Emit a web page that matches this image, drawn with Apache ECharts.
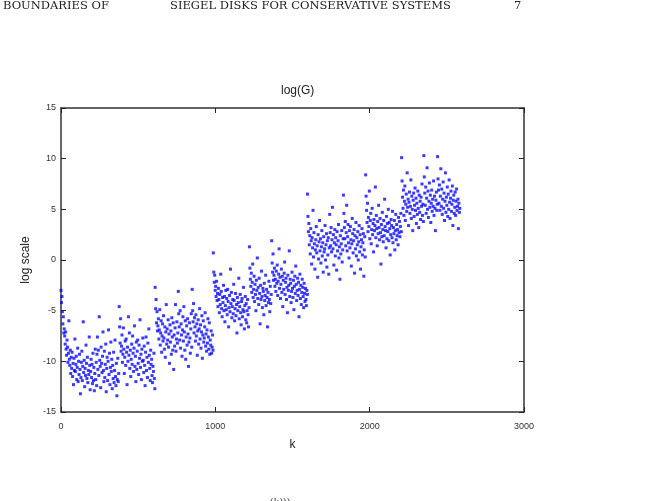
<!DOCTYPE html>
<html>
<head>
<meta charset="utf-8">
<script src="https://cdn.jsdelivr.net/npm/echarts@6.0.0/dist/echarts.min.js"></script>
<style>
  html, body { margin: 0; padding: 0; background: #fff; }
  #logChart { width: 658px; height: 501px; }
</style>
</head>
<body>
<div id="logChart"></div>
<script>
// x ticks / y ticks
var xTicks = [0, 1000, 2000, 3000];
var yTicks = [-15, -10, -5, 0, 5, 10, 15];

// one value every kStep iterations, each block starts at blockStart[i]
var kStep = 3;
var blockStart = [0, 233, 377, 610, 760, 850, 987, 1221, 1365, 1597, 1741, 1830, 1974, 2207, 2351, 2440];

var b0 = [-3.0, -4.2, -3.6, -5.1, -6.3, -5.6, -7.2, -6.8, -7.5, -8.3, -7.1, -8.8, -9.4, -7.9, -8.6, -10.1, -9.2, -6.0, -9.8, -10.4,
  -8.9, -11.2, -9.6, -10.7, -9.1, -11.5, -10.2, -12.3, -9.7, -10.9, -7.8, -11.0, -10.3, -9.5, -11.8, -10.6, -8.7, -12.0, -10.0, -11.3,
  -9.3, -10.8, -13.2, -11.6, -10.1, -9.0, -11.9, -10.5, -6.1, -11.1, -9.9, -12.5, -10.7, -11.4, -8.4, -10.2, -11.7, -9.6, -12.1, -10.9,
  -11.3, -7.6, -10.4, -12.8, -11.0, -9.8, -11.6, -10.3, -12.2, -9.2, -11.9, -10.6, -12.9, -11.2, -8.8, -11.8, -10.1, -12.4];
var b1 = [-9.3, -7.6, -10.8, -8.9, -11.4, -5.6, -9.9, -10.5, -12.6, -8.6, -10.2, -11.1, -9.5, -7.1, -10.9, -12.0, -9.0, -11.6, -10.3, -8.3,
  -13.0, -10.7, -9.6, -11.9, -10.0, -6.9, -11.3, -9.2, -12.3, -10.6, -8.1, -11.0, -9.8, -12.7, -10.4, -11.7, -9.1, -12.1, -10.9, -7.9,
  -11.5, -12.4, -10.2, -13.4, -11.8, -9.7, -12.0, -11.2];
var b2 = [-4.6, -6.6, -8.2, -5.8, -9.0, -8.5, -7.4, -10.1, -9.3, -6.7, -8.8, -11.2, -9.6, -8.0, -10.4, -7.8, -9.1, -12.3, -8.6, -10.0,
  -5.6, -9.4, -7.2, -10.7, -8.9, -11.5, -9.8, -8.3, -10.3, -7.5, -9.2, -11.0, -8.7, -6.5, -10.5, -9.5, -12.0, -8.1, -10.8, -9.0,
  -7.9, -10.2, -11.3, -8.4, -9.7, -5.9, -10.6, -9.3, -11.8, -8.8, -10.0, -7.7, -9.9, -11.1, -8.5, -10.4, -12.4, -9.1, -7.6, -10.9,
  -9.6, -11.6, -8.2, -10.1, -6.8, -9.4, -10.7, -11.9, -8.9, -10.3, -9.8, -11.4, -12.1, -10.5, -11.0, -9.2, -11.7, -12.7];
var b3 = [-2.7, -4.8, -3.9, -6.2, -5.1, -7.0, -6.5, -5.8, -7.8, -6.9, -4.9, -8.4, -7.2, -6.0, -9.1, -7.5, -6.3, -8.0, -5.5, -7.7,
  -8.8, -6.6, -9.6, -7.1, -4.4, -8.3, -6.8, -7.9, -5.9, -8.6, -7.3, -10.2, -6.4, -8.1, -7.0, -9.3, -5.7, -7.6, -8.9, -6.2,
  -10.8, -7.4, -8.5, -6.7, -4.4, -9.0, -7.8, -6.1, -8.2, -7.2];
var b4 = [-3.1, -5.3, -6.6, -7.9, -5.0, -8.7, -6.3, -7.4, -9.5, -6.9, -5.6, -8.0, -4.6, -7.1, -8.9, -6.0, -9.8, -7.6, -6.5, -8.4,
  -5.8, -7.3, -10.5, -8.1, -6.2, -7.7, -9.2, -6.8, -5.3, -8.6];
var b5 = [-2.9, -5.0, -6.1, -4.3, -7.2, -5.7, -6.6, -8.0, -5.4, -7.5, -6.3, -9.4, -7.0, -5.9, -8.3, -6.8, -4.8, -7.8, -6.4, -8.7,
  -7.1, -5.5, -9.7, -7.4, -6.0, -8.1, -7.7, -6.6, -5.2, -8.5, -7.3, -9.0, -6.9, -8.2, -5.8, -7.6, -8.8, -6.2, -9.3, -7.9,
  -8.4, -7.0, -9.2, -8.6, -7.4, -8.9];
var b6 = [0.7, -1.2, -2.2, -1.5, -3.0, -2.6, -3.6, -2.1, -4.0, -3.3, -4.6, -2.8, -3.9, -5.2, -3.4, -4.4, -1.4, -3.1, -4.8, -5.6,
  -3.7, -4.2, -2.5, -5.0, -3.6, -6.1, -4.5, -3.0, -4.9, -3.8, -5.4, -2.9, -4.1, -6.6, -4.7, -3.5, -5.1, -0.9, -4.3, -3.2,
  -5.7, -4.6, -3.9, -5.3, -2.4, -4.0, -6.0, -4.8, -3.3, -5.5, -4.4, -7.2, -3.7, -5.0, -4.2, -1.8, -5.8, -4.6, -3.4, -5.2,
  -6.4, -4.1, -3.8, -5.6, -4.9, -2.7, -5.1, -6.8, -4.5, -3.6, -5.9, -4.3, -6.2, -5.0, -3.9, -5.4, -6.6, -4.7];
var b7 = [1.3, -0.8, -1.9, -2.6, -1.3, -3.2, -2.2, -0.4, -3.7, -2.9, -1.6, -4.1, -2.4, -3.4, -5.0, -2.0, -3.0, 0.2, -3.8, -2.7,
  -4.4, -1.8, -3.3, -6.3, -2.5, -3.9, -1.1, -3.6, -4.7, -2.8, -3.1, -5.4, -2.3, -4.0, -3.5, -1.5, -4.5, -2.9, -3.7, -6.6,
  -3.2, -4.2, -2.1, -3.9, -5.1, -2.6, -4.3, -3.4];
var b8 = [1.9, -0.3, -1.2, 0.6, -2.0, -1.5, -0.8, -2.6, -1.9, -3.1, -1.1, -2.3, -0.5, -3.5, -2.1, -1.4, 1.1, -2.8, -1.7, -3.8,
  -2.4, -0.9, -3.2, -1.6, -4.6, -2.0, -2.9, -1.3, -0.2, -3.4, -2.2, -1.8, -3.9, -2.7, -5.2, -1.5, -3.0, -2.5, 0.9, -3.6,
  -1.9, -2.3, -4.2, -3.1, -1.2, -2.8, -3.7, -2.0, -4.9, -2.6, -1.6, -3.3, -0.6, -2.4, -4.0, -3.0, -1.8, -3.5, -2.2, -5.6,
  -2.9, -1.4, -3.8, -2.5, -4.4, -3.2, -1.9, -2.7, -3.6, -4.7, -2.3, -3.3, -4.1, -2.8, -3.9, -4.5, -3.0, -3.4];
var b9 = [6.5, 4.3, 2.8, 3.6, 1.5, 2.4, 0.6, 3.1, 1.9, -0.4, 2.2, 1.2, 4.9, 0.3, 2.7, 1.6, -0.9, 1.0, 2.0, 3.3,
  0.7, 1.4, -1.7, 2.5, 0.1, 1.8, 3.9, 0.9, 2.1, -0.3, 1.3, 2.9, 0.4, 1.7, -1.2, 2.3, 0.8, 1.1, 3.4, 0.0,
  1.5, 2.6, -0.7, 1.9, 0.5, 2.2, -1.4, 1.2];
var b10 = [4.5, 2.7, 1.4, 3.2, 0.8, 2.0, 5.2, 1.1, 2.5, -0.5, 1.7, 3.0, 0.4, 2.2, 1.5, -1.0, 2.8, 0.9, 1.9, 3.5,
  0.2, 1.3, -1.9, 2.4, 0.6, 1.6, 2.9, -0.2, 1.0, 2.1];
var b11 = [6.4, 4.6, 3.2, 2.1, 3.8, 1.4, 2.7, 5.4, 0.9, 2.3, 3.5, 1.7, 0.2, 2.9, 1.2, 3.3, 2.0, -0.6, 1.6, 4.1,
  2.6, 0.7, 1.9, 3.0, -1.3, 2.4, 1.1, 3.7, 0.4, 2.2, 1.5, 2.8, 0.0, 1.8, 3.4, 0.8, 2.5, -0.9, 1.3, 2.0,
  3.1, 0.5, 1.7, 2.6, -1.6, 1.0, 2.3, 0.3];
var b12 = [8.4, 6.3, 4.9, 3.7, 5.6, 2.8, 4.2, 3.3, 6.8, 2.1, 3.9, 4.6, 1.6, 3.0, 5.1, 2.5, 3.6, 0.8, 4.0, 2.9,
  3.4, 7.2, 2.2, 4.4, 3.1, 1.4, 3.8, 2.6, 5.4, 3.2, 2.0, 4.1, 2.7, -0.4, 3.5, 2.3, 4.7, 3.0, 1.8, 3.9,
  2.4, 6.0, 3.3, 2.9, 1.2, 4.3, 2.1, 3.6, 2.8, 5.0, 1.9, 3.7, 3.1, 0.5, 2.5, 4.0, 3.4, 2.2, 4.8, 1.7,
  3.2, 2.6, 3.9, 1.0, 2.9, 4.5, 2.0, 3.5, 2.4, 3.0, 1.5, 4.2, 2.7, 3.8, 2.3, 3.3, 4.6, 2.8];
var b13 = [10.1, 7.8, 6.2, 5.1, 6.9, 4.4, 5.8, 7.3, 3.9, 5.5, 6.5, 4.8, 8.6, 5.2, 6.0, 3.4, 5.7, 6.7, 4.6, 5.3,
  7.9, 4.1, 6.3, 5.0, 2.9, 5.9, 6.6, 4.3, 5.4, 7.1, 4.9, 6.1, 3.6, 5.6, 4.5, 6.8, 5.1, 3.2, 6.4, 4.7,
  5.8, 4.0, 6.2, 5.3, 7.5, 4.4, 5.5, 3.8];
var b14 = [10.3, 8.2, 6.6, 5.4, 7.2, 4.6, 6.1, 9.1, 5.0, 6.8, 4.2, 5.8, 7.6, 5.2, 6.4, 3.7, 5.6, 6.9, 4.8, 6.0,
  5.3, 7.8, 4.4, 6.3, 5.1, 2.9, 5.9, 6.7, 4.9, 5.5];
var b15 = [10.2, 8.0, 6.9, 5.6, 7.4, 4.9, 6.3, 9.0, 5.3, 7.0, 4.5, 6.0, 7.7, 5.1, 6.6, 3.9, 5.8, 8.6, 4.7, 6.2,
  5.4, 7.2, 4.3, 6.5, 5.0, 7.9, 5.7, 4.1, 6.1, 6.8, 4.8, 5.5, 7.3, 3.4, 5.9, 6.4, 4.6, 5.2, 6.7, 4.4,
  5.8, 7.0, 4.9, 5.3, 6.0, 3.1, 5.6, 4.7, 5.1];

var blockY = [b0, b1, b2, b3, b4, b5, b6, b7, b8, b9, b10, b11, b12, b13, b14, b15];

var points = [];
blockY.forEach(function (ys, i) {
  ys.forEach(function (y, j) {
    points.push([blockStart[i] + j * kStep, y]);
  });
});

var frame = { show: true, onZero: false, lineStyle: { color: '#333', width: 1.5 } };
var tickIn = { show: true, inside: true, length: 5, lineStyle: { color: '#222', width: 1 } };
var labelStyle = { color: '#333', fontSize: 9, fontFamily: 'Liberation Sans, Arial, sans-serif',
  formatter: function (v) { return String(v); } };
var headFont = '11.5px "DejaVu Serif", serif';

var option = {
  animation: false,
  backgroundColor: '#fff',
  title: {
    text: 'log(G)',
    left: 276,
    top: 80,
    textStyle: { fontSize: 12, fontWeight: 'normal', color: '#222', fontFamily: 'Liberation Sans, Arial, sans-serif' }
  },
  graphic: [
    { type: 'text', left: 3, top: 0, style: { text: 'BOUNDARIES OF', font: headFont, fill: '#222' } },
    { type: 'text', left: 170, top: 0, style: { text: 'SIEGEL DISKS FOR CONSERVATIVE SYSTEMS', font: headFont, fill: '#222' } },
    { type: 'text', left: 514, top: 0, style: { text: '7', font: headFont, fill: '#222' } },
    { type: 'text', left: 270, top: 497, style: { text: '(k)))', font: '11px "Liberation Serif", serif', fill: '#444' } }
  ],
  grid: { left: 61, right: 134, top: 108, bottom: 89 },
  xAxis: [{
    type: 'value', min: 0, max: 3000, interval: 1000, position: 'bottom',
    name: 'k', nameLocation: 'middle', nameGap: 27,
    nameTextStyle: { fontSize: 12, color: '#222', fontFamily: 'Liberation Sans, Arial, sans-serif' },
    axisLine: frame, axisTick: tickIn,
    axisLabel: Object.assign({ margin: 10 }, labelStyle),
    splitLine: { show: false }
  }, {
    type: 'value', min: 0, max: 3000, interval: 1000, position: 'top',
    axisLine: frame, axisTick: tickIn, axisLabel: { show: false }, splitLine: { show: false }
  }],
  yAxis: [{
    type: 'value', min: -15, max: 15, interval: 5, position: 'left',
    name: 'log scale', nameLocation: 'middle', nameGap: 22, nameRotate: 90,
    nameTextStyle: { fontSize: 12, color: '#222', fontFamily: 'Liberation Sans, Arial, sans-serif' },
    axisLine: frame, axisTick: tickIn,
    axisLabel: Object.assign({ margin: 5 }, labelStyle),
    splitLine: { show: false }
  }, {
    type: 'value', min: -15, max: 15, interval: 5, position: 'right',
    axisLine: frame, axisTick: tickIn, axisLabel: { show: false }, splitLine: { show: false }
  }],
  series: [{
    name: 'log(G)',
    type: 'scatter',
    xAxisIndex: 0,
    yAxisIndex: 0,
    symbol: 'rect',
    symbolSize: 3,
    itemStyle: { color: '#0a0aff' },
    data: points
  }]
};

var logChart = echarts.init(document.getElementById('logChart'));
logChart.setOption(option);
</script>
</body>
</html>
